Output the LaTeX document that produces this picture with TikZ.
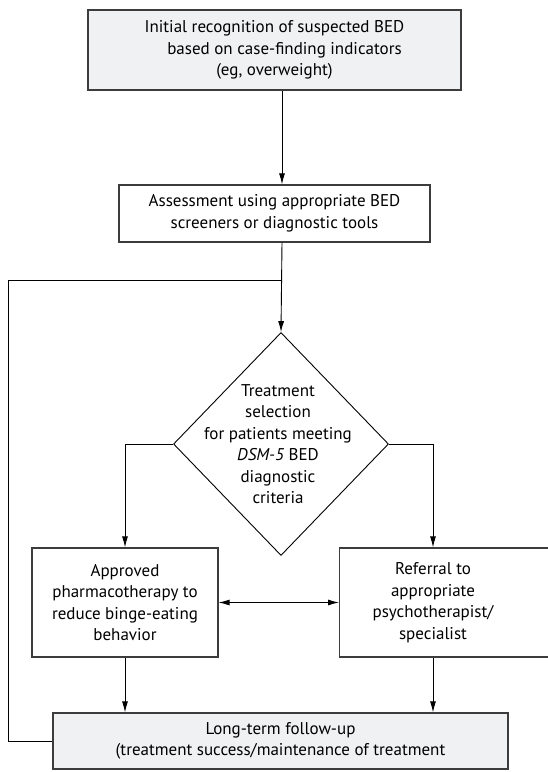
\documentclass[tikz,border=0pt]{standalone}
\usepackage{fontspec}
\setmainfont{PT Sans}
\usepackage{tikz}
\usetikzlibrary{shapes.geometric, arrows.meta}

\definecolor{boxgray}{HTML}{F0F1F3}
\definecolor{edgegray}{HTML}{3C3C3C}

\begin{document}
\begin{tikzpicture}[x=1pt, y=-1pt,
		font=\fontsize{17}{21.5}\selectfont,
		box/.style={draw=edgegray, line width=1.3pt, align=center, inner sep=0pt},
		decision/.style={diamond, draw=black, line width=0.9pt, inner sep=0pt, minimum width=215pt, minimum height=223pt},
		line/.style={draw=black, line width=0.9pt},
		>={Latex[length=11pt, width=6pt]}]
		\useasboundingbox (0,0) rectangle (547,772);
		\node[box, fill=boxgray, minimum width=373pt, minimum height=80pt] (init) at (274.5,50) {Initial recognition of suspected BED\\\hspace{20pt}based on case-finding indicators\\(eg, overweight)};
		\node[box, minimum width=311pt, minimum height=57pt] (assess) at (274.5,213.5) {Assessment using appropriate BED\\screeners or diagnostic tools};
		\coordinate (split) at (282,280);
		\coordinate (back) at (8,280);
		\node[decision] (select) at (281,444) {};
		\node[align=center] (selecttext) at (278,444) {Treatment\\selection\\for patients meeting\\\textit{DSM-5} BED\\diagnostic\\criteria};
		\node[box, minimum width=186pt, minimum height=109pt] (approve) at (125,602.5) {Approved\\pharmacotherapy to\\reduce binge-eating\\behavior};
		\node[box, minimum width=230pt, minimum height=109pt, anchor=west] (refer) at (339,602.5) {};
		\node[align=center] (refertext) at (433,602.5) {Referral to\\appropriate\\psychotherapist/\\specialist};
		\node[box, fill=boxgray, minimum width=455pt, minimum height=56pt] (follow) at (280.5,741) {Long-term follow-up\\(treatment success/maintenance of treatment};
		\draw[line, ->] (init.south -| split) -- (assess.north -| split);
		\draw[line, ->] (assess.south -| split) -- (select.north);
		\draw[line] (split) -- (back) |- (follow.west);
		\draw[line, ->] (select.west) -| (approve.north);
		\draw[line, ->] (select.east) -| (refertext |- refer.north);
		\draw[line, <->] (approve.east) -- (refer.west);
		\draw[line, ->] (approve.south) -- (approve.south |- follow.north);
		\draw[line, ->] (refertext |- refer.south) -- (refertext |- follow.north);
	\end{tikzpicture}
\end{document}
